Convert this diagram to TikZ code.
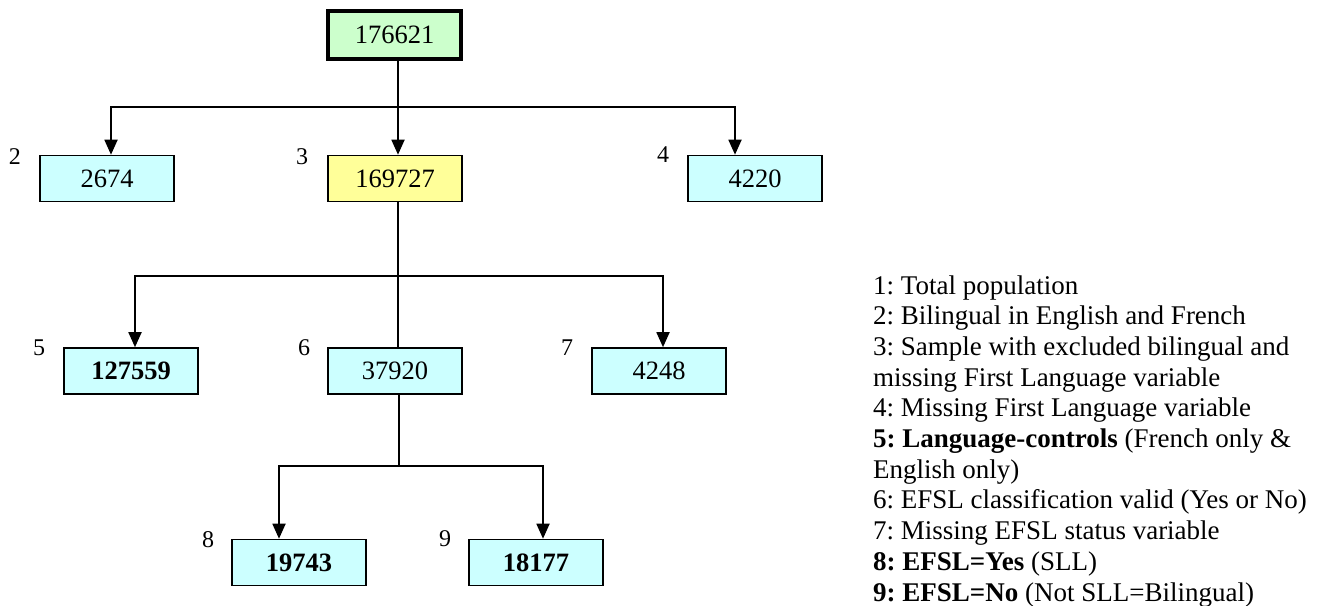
\documentclass[tikz,border=0pt]{standalone}
\usepackage{fontspec}
\setmainfont{Liberation Serif}
\usetikzlibrary{arrows.meta}
\definecolor{boxcyan}{HTML}{CCFFFF}
\definecolor{boxyellow}{HTML}{FFFF99}
\definecolor{boxgreen}{HTML}{CCFFCC}
\frenchspacing
\begin{document}
\begin{tikzpicture}[x=1pt,y=-1pt,
  numbox/.style={draw=black, line width=1.6pt, fill=boxcyan, minimum width=134pt, minimum height=46pt, inner sep=0pt, font=\fontsize{26.5}{30}\selectfont},
  tag/.style={font=\fontsize{24}{28}\selectfont, inner sep=0pt},
  conn/.style={line width=1.8pt},
  arr/.style={conn, -{Triangle[length=15pt,width=13pt]}},
  legend/.style={anchor=base west, inner sep=0pt, font=\fontsize{27}{30}\selectfont}]
\useasboundingbox (0,0) rectangle (1322,605);

% boxes
\node[numbox, fill=boxgreen, line width=4pt, minimum width=133pt, minimum height=48pt] (b1) at (394.5,35) {176621};
\node[numbox] (b2) at (107,178.5) {2674};
\node[numbox, fill=boxyellow] (b3) at (395,178.5) {169727};
\node[numbox] (b4) at (755,178.5) {4220};
\node[numbox] (b5) at (131,371) {\textbf{127559}};
\node[numbox] (b6) at (395,371) {37920};
\node[numbox] (b7) at (659,371) {4248};
\node[numbox] (b8) at (299,562.5) {\textbf{19743}};
\node[numbox] (b9) at (536,562.5) {\textbf{18177}};

% number tags
\node[tag] (t2) at (15,157) {2};
\node[tag] (t3) at (302,157) {3};
\node[tag] (t4) at (663,155) {4};
\node[tag] (t5) at (39,348) {5};
\node[tag] (t6) at (304,348) {6};
\node[tag] (t7) at (567,348) {7};
\node[tag] (t8) at (208,540) {8};
\node[tag] (t9) at (445,539) {9};

% junctions
\coordinate (j1) at (398,107);
\coordinate (j2) at (398,276);
\coordinate (j3) at (399,466);

% connectors
\draw[conn] ([xshift=3.5pt]b1.south) -- (j1);
\draw[arr] (j1) -| ([xshift=4pt]b2.north);
\draw[arr] (j1) -- ([xshift=3pt]b3.north);
\draw[arr] (j1) -| ([xshift=-20pt]b4.north);

\draw[conn] ([xshift=3pt]b3.south) -- (j2);
\draw[arr] (j2) -| ([xshift=4pt]b5.north);
\draw[conn] (j2) -- ([xshift=3pt]b6.north);
\draw[arr] (j2) -| ([xshift=4pt]b7.north);

\draw[conn] ([xshift=4pt]b6.south) -- (j3);
\draw[arr] (j3) -| ([xshift=-20pt]b8.north);
\draw[arr] (j3) -| ([xshift=7pt]b9.north);

% legend
\node[legend] (l1) at (873,294.0) {1: Total population};
\node[legend] (l2) at (873,324.7) {2: Bilingual in English and French};
\node[legend] (l3) at (873,355.4) {3: Sample with excluded bilingual and};
\node[legend] (l4) at (873,386.1) {missing First Language variable};
\node[legend] (l5) at (873,416.8) {4: Missing First Language variable};
\node[legend] (l6) at (873,447.5) {\textbf{5: Language-controls} (French only \&};
\node[legend] (l7) at (873,478.2) {English only)};
\node[legend] (l8) at (873,508.9) {6: EFSL classification valid (Yes or No)};
\node[legend] (l9) at (873,539.6) {7: Missing EFSL status variable};
\node[legend] (l10) at (873,570.3) {\textbf{8: EFSL=Yes} (SLL)};
\node[legend] (l11) at (873,601.0) {\textbf{9: EFSL=No} (Not SLL=Bilingual)};
\end{tikzpicture}
\end{document}
